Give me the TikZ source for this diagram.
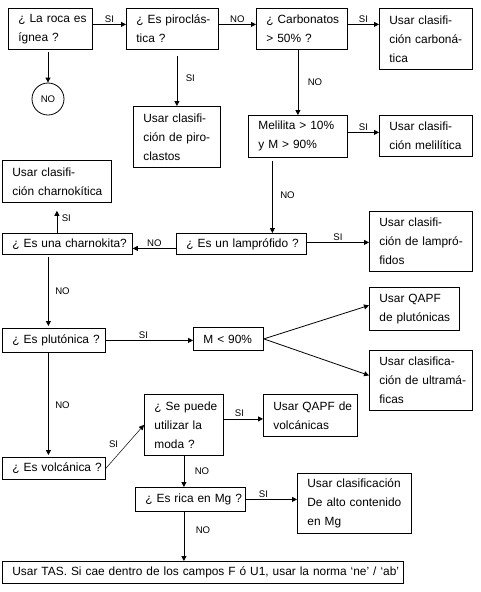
\documentclass[tikz,border=0pt]{standalone}
\usepackage{fontspec}
\setmainfont{Liberation Sans}
\usetikzlibrary{arrows.meta}
\begin{document}
\begin{tikzpicture}[x=1pt,y=-1pt,
  bx/.style={draw, line width=0.8pt, anchor=north west, align=left, inner xsep=10pt, inner ysep=0pt,
    font=\fontsize{11.9}{19}\selectfont, execute at begin node={\hbadness=10000\hfuzz=100pt}},
  arr/.style={line width=0.8pt, -{Triangle[length=5pt,width=5pt]}},
  lbl/.style={font=\fontsize{9.6}{10}\selectfont, inner sep=1.5pt}]
\fill[white] (0,0) rectangle (480,592);
\useasboundingbox (0,0) rectangle (480,592);

\node[bx, text width=64pt, minimum height=41pt] (b1) at (8,8) {\mbox{¿ La roca es}\\\mbox{ígnea ?}};
\node[bx, text width=72pt, minimum height=41pt] (b2) at (126,8) {\mbox{¿ Es piroclás-}\\\mbox{tica ?}};
\node[bx, text width=71pt, minimum height=41pt] (b3) at (256,8) {\mbox{¿ Carbonatos}\\\mbox{> 50\% ?}};
\node[bx, text width=73pt, minimum height=61pt] (b4) at (379,8) {\mbox{Usar clasifi-}\\\mbox{ción carboná-}\\\mbox{tica}};
\node[bx, text width=79pt, minimum height=42pt] (b5) at (248,115) {\mbox{Melilita > 10\%}\\\mbox{y M > 90\%}};
\node[bx, text width=73pt, minimum height=41pt] (b6) at (379,115) {\mbox{Usar clasifi-}\\\mbox{ción melilítica}};
\node[bx, text width=67pt, minimum height=61pt] (b7) at (133,106) {\mbox{Usar clasifi-}\\\mbox{ción de piro-}\\\mbox{clastos}};
\node[bx, text width=89pt, minimum height=42pt] (b8) at (2,160) {\mbox{Usar clasifi-}\\\mbox{ción charnokítica}};
\node[bx, text width=110pt, minimum height=21pt] (b9) at (2,233) {\mbox{¿ Es una charnokita?}};
\node[bx, text width=110pt, minimum height=21pt] (b10) at (176,233) {\mbox{¿ Es un lamprófido ?}};
\node[bx, text width=83pt, minimum height=60pt] (b11) at (369,211) {\mbox{Usar clasifi-}\\\mbox{ción de lampró-}\\\mbox{fidos}};
\node[bx, text width=83pt, minimum height=24pt] (b12) at (2,328) {\mbox{¿ Es plutónica ?}};
\node[bx, text width=50pt, minimum height=23pt] (b13) at (193,327) {\mbox{M < 90\%}};
\node[bx, text width=70pt, minimum height=43pt] (b14) at (369,287) {\mbox{Usar QAPF}\\\mbox{de plutónicas}};
\node[bx, text width=83pt, minimum height=60pt] (b15) at (369,350) {\mbox{Usar clasifica-}\\\mbox{ción de ultramá-}\\\mbox{ficas}};
\node[bx, text width=83pt, minimum height=22pt] (b16) at (2,457) {\mbox{¿ Es volcánica ?}};
\node[bx, text width=59pt, minimum height=61pt] (b17) at (144,394) {\mbox{¿ Se puede}\\\mbox{utilizar la}\\\mbox{moda ?}};
\node[bx, text width=74pt, minimum height=42pt] (b18) at (263,394) {\mbox{Usar QAPF de}\\\mbox{volcánicas}};
\node[bx, text width=90pt, minimum height=24pt] (b19) at (135,487) {\mbox{¿ Es rica en Mg ?}};
\node[bx, text width=94pt, minimum height=60pt] (b20) at (297,473) {\mbox{Usar clasificación}\\\mbox{De alto contenido}\\\mbox{en Mg}};
\node[bx, text width=381pt, minimum height=22pt] (b21) at (2,561) {\mbox{Usar TAS. Si cae dentro de los campos F ó U1, usar la norma ‘ne’ / ‘ab’}};
\node[draw, circle, line width=0.8pt, minimum size=32pt, inner sep=0pt, font=\fontsize{9.6}{10}\selectfont] (c) at (48,99) {NO};

\draw[arr] ([yshift=4.5pt]b1.east) -- node[lbl,above]{SI} ([yshift=4.5pt]b2.west);
\draw[arr] ([yshift=4.5pt]b2.east) -- node[lbl,above]{NO} ([yshift=4.5pt]b3.west);
\draw[arr] ([yshift=4.5pt]b3.east) -- node[lbl,above]{SI} ([yshift=4.5pt]b3.east -| b4.west);
\draw[arr] (b5.north |- b3.south) -- node[lbl,right,xshift=8pt]{NO} (b5.north);
\draw[arr] ([yshift=4pt]b5.east) -- node[lbl,above]{SI} ([yshift=4pt]b5.east -| b6.west);
\draw[arr, shorten <=2pt] (c.north |- b1.south) -- (c.north);
\draw[arr, shorten <=6pt] (b7.north |- b2.south) -- node[lbl,right,xshift=7pt]{SI} (b7.north);
\draw[arr, shorten <=3pt] ([xshift=-25.5pt]b5.south) -- node[lbl,right,xshift=6pt]{NO} ([xshift=-25.5pt]b5.south |- b10.north);
\draw[arr] ([yshift=-4.5pt]b10.west) -- node[lbl,above]{NO} ([yshift=-4.5pt]b10.west -| b9.east);
\draw[arr] ([yshift=1.5pt]b10.east) -- node[lbl,above]{SI} ([yshift=1.5pt]b10.east -| b11.west);
\draw[arr, shorten >=8pt] (b8.south |- b9.north) -- node[lbl,right,xshift=3pt]{SI} (b8.south);
\draw[arr, shorten <=2pt, shorten >=2pt] ([xshift=-19pt]b9.south) -- node[lbl,right,xshift=5pt]{NO} ([xshift=-19pt]b9.south |- b12.north);
\draw[arr] (b12.east) -- node[lbl,above,xshift=-6pt]{SI} (b12.east -| b13.west);
\draw[arr] (b13.east) -- ([yshift=3.5pt]b14.west);
\draw[arr] (b13.east) -- ([yshift=5pt]b15.west);
\draw[arr, shorten >=2pt] ([xshift=-5.5pt]b12.south) -- node[lbl,right,xshift=5pt]{NO} ([xshift=-5.5pt]b12.south |- b16.north);
\draw[line width=0.5pt, -{Triangle[length=5pt,width=5pt]}] (b16.east) -- node[lbl,left,xshift=-5pt,yshift=2pt]{SI} (b17.west);
\draw[arr] ([yshift=6pt]b17.east) -- node[lbl,above,xshift=-4pt]{SI} ([yshift=6pt]b17.east -| b18.west);
\draw[arr] (b17.south) -- node[lbl,right,xshift=9pt]{NO} (b17.south |- b19.north);
\draw[arr] (b19.east) -- node[lbl,above,xshift=-8pt]{SI} (b19.east -| b20.west);
\draw[arr] (b17.south |- b19.south) -- node[lbl,right,xshift=10pt,yshift=6pt]{NO} (b17.south |- b21.north);
\end{tikzpicture}
\end{document}
